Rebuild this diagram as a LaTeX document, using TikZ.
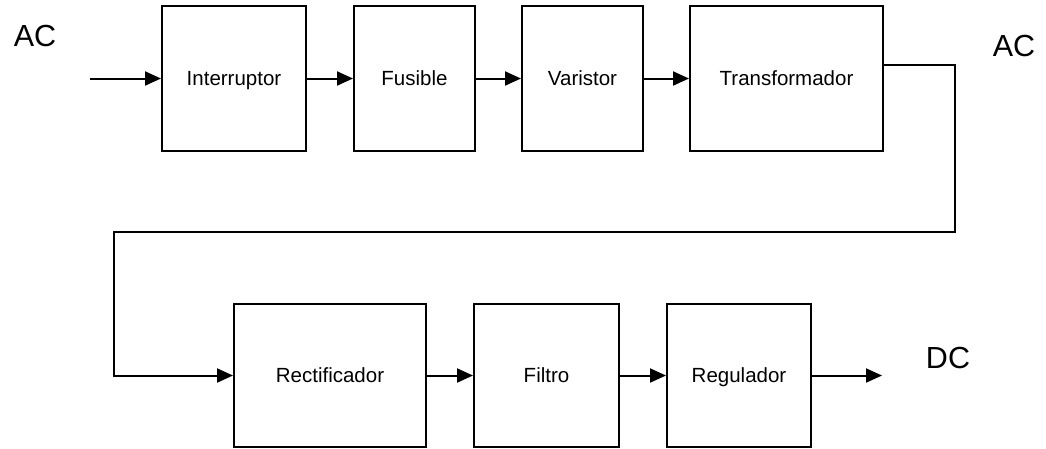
\documentclass[tikz,border=0pt]{standalone}
\usepackage{fontspec}
\setmainfont{Liberation Sans}
\usetikzlibrary{arrows.meta}
\begin{document}
\begin{tikzpicture}[x=1pt,y=-1pt,
  block/.style={draw,line width=2pt,inner sep=0pt,
    text height=19pt,text depth=4.3pt,
    font=\fontsize{20.5}{24}\selectfont},
  topblock/.style={block,minimum height=145pt},
  botblock/.style={block,minimum height=143pt},
  link/.style={line width=2pt,-{Triangle[length=16pt,width=14pt]}},
  bigtext/.style={font=\fontsize{30.5}{34}\selectfont,inner sep=0pt}]
\useasboundingbox (0,0) rectangle (1046,448);
% first stage: mains side
\node[topblock,minimum width=144pt] (intr) at (234,78.5) {Interruptor};
\node[topblock,minimum width=121pt] (fus) at (414.5,78.5) {Fusible};
\node[topblock,minimum width=121pt] (var) at (582.5,78.5) {Varistor};
\node[topblock,minimum width=193pt] (tra) at (786.5,78.5) {Transformador};
% second stage: DC side
\node[botblock,minimum width=192pt] (rec) at (330,375.5) {Rectificador};
\node[botblock,minimum width=145pt] (fil) at (546.5,375.5) {Filtro};
\node[botblock,minimum width=144pt] (reg) at (739,375.5) {Regulador};
% labels
\node[bigtext] (acin) at (35,36) {AC};
\node[bigtext] (acout) at (1014,46) {AC};
\node[bigtext] (dc) at (948,358) {DC};
% free ends and bends
\coordinate (in) at (90,78.5);
\coordinate (out) at (882,375.5);
\coordinate (c1) at (955,232);
\coordinate (c2) at (114,232);
% connectors
\draw[link] (in) -- (intr.west);
\draw[link] (intr) -- (fus);
\draw[link] (fus) -- (var);
\draw[link] (var) -- (tra);
\draw[link] ([yshift=14pt]tra.east) -| (c1) -- (c2) |- (rec.west);
\draw[link] (rec) -- (fil);
\draw[link] (fil) -- (reg);
\draw[link] (reg.east) -- (out);
\end{tikzpicture}
\end{document}
